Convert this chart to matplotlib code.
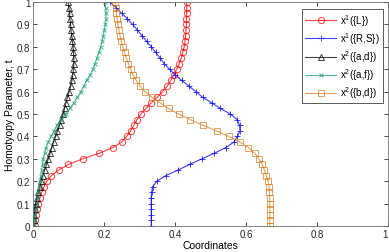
import numpy as np
import matplotlib.pyplot as plt

# homotopy parameter t (0 to 1 in steps of 0.025)
t = [0.000, 0.025, 0.050, 0.075, 0.100, 0.125, 0.150, 0.175, 0.200, 0.225,
     0.250, 0.275, 0.300, 0.325, 0.350, 0.375, 0.400, 0.425, 0.450, 0.475,
     0.500, 0.525, 0.550, 0.575, 0.600, 0.625, 0.650, 0.675, 0.700, 0.725,
     0.750, 0.775, 0.800, 0.825, 0.850, 0.875, 0.900, 0.925, 0.950, 0.975, 1.000]

x1_L = [0.006, 0.007, 0.009, 0.012, 0.015, 0.019, 0.024, 0.031, 0.039, 0.052,
        0.072, 0.100, 0.140, 0.187, 0.224, 0.250, 0.264, 0.275, 0.284, 0.293,
        0.304, 0.318, 0.333, 0.350, 0.365, 0.378, 0.388, 0.397, 0.405, 0.412,
        0.418, 0.422, 0.426, 0.428, 0.430, 0.431, 0.432, 0.432, 0.433, 0.433, 0.433]

x1_RS = [0.333, 0.333, 0.333, 0.333, 0.333, 0.333, 0.334, 0.337, 0.349, 0.374,
         0.409, 0.441, 0.476, 0.511, 0.543, 0.566, 0.576, 0.583, 0.582, 0.575,
         0.556, 0.528, 0.503, 0.478, 0.459, 0.439, 0.419, 0.401, 0.385, 0.370,
         0.358, 0.346, 0.333, 0.320, 0.307, 0.294, 0.281, 0.266, 0.250, 0.234, 0.217]

x2_ad = [0.001, 0.002, 0.004, 0.006, 0.008, 0.011, 0.015, 0.019, 0.023, 0.028,
         0.033, 0.038, 0.043, 0.048, 0.053, 0.058, 0.064, 0.069, 0.075, 0.080,
         0.085, 0.089, 0.093, 0.097, 0.102, 0.106, 0.110, 0.112, 0.114, 0.115,
         0.115, 0.114, 0.113, 0.111, 0.109, 0.107, 0.106, 0.104, 0.103, 0.101, 0.099]

x2_af = [0.003, 0.005, 0.007, 0.009, 0.011, 0.013, 0.015, 0.017, 0.020, 0.022,
         0.024, 0.027, 0.029, 0.033, 0.037, 0.043, 0.051, 0.059, 0.068, 0.079,
         0.092, 0.104, 0.115, 0.125, 0.135, 0.143, 0.151, 0.161, 0.169, 0.175,
         0.180, 0.186, 0.191, 0.195, 0.198, 0.201, 0.204, 0.206, 0.206, 0.205, 0.203]

x2_bd = [0.667, 0.667, 0.667, 0.667, 0.667, 0.667, 0.666, 0.665, 0.662, 0.657,
         0.652, 0.646, 0.636, 0.625, 0.607, 0.583, 0.551, 0.517, 0.478, 0.443,
         0.410, 0.382, 0.358, 0.335, 0.315, 0.302, 0.291, 0.282, 0.275, 0.269,
         0.263, 0.258, 0.253, 0.249, 0.245, 0.242, 0.239, 0.237, 0.235, 0.233, 0.231]

labels = ['x$^1$({L})', 'x$^1$({R,S})', 'x$^2$({a,d})', 'x$^2$({a,f})', 'x$^2$({b,d})']
xticks = [0, 0.2, 0.4, 0.6, 0.8, 1]
yticks = [0, 0.1, 0.2, 0.3, 0.4, 0.5, 0.6, 0.7, 0.8, 0.9, 1]

plt.rcParams['font.family'] = ['Liberation Sans', 'DejaVu Sans']
plt.rcParams['mathtext.fontset'] = 'custom'
plt.rcParams['mathtext.rm'] = 'Liberation Sans'

fig = plt.figure(figsize=(3.89, 2.53), dpi=100)
ax = fig.add_axes([0.0848, 0.1028, 0.9126, 0.885])

series = [x1_L, x1_RS, x2_ad, x2_af, x2_bd]
colors = ['#ff0000', '#0000ff', '#000000', '#1b9e77', '#d9822b']
markers = ['o', '+', '^', 'x', 's']
sizes = [4.5, 4.5, 4.0, 3.5, 4.5]

for xs, c, m, ms, lab in zip(series, colors, markers, sizes, labels):
    ax.plot(xs, t, color=c, marker=m, markersize=ms, markerfacecolor='none',
            markeredgewidth=0.7, linewidth=0.8, alpha=0.75, label=lab)

ax.set_xlim(0, 1)
ax.set_ylim(0, 1)
ax.set_xticks(xticks)
ax.set_xticklabels([f'{v:g}' for v in xticks])
ax.set_yticks(yticks)
ax.set_yticklabels([f'{v:g}' for v in yticks])
ax.tick_params(direction='in', top=True, right=True, length=3, width=0.6,
               labelsize=7, colors='#262626', pad=2)
# keep the last x label inside the figure
ax.get_xticklabels()[-1].set_horizontalalignment('right')
for s in ax.spines.values():
    s.set_color('#707070')
    s.set_linewidth(0.6)

ax.set_xlabel('Coordinates', fontsize=7.5, labelpad=1)
ax.set_ylabel('Homotyopy Parameter, t', fontsize=7.5, labelpad=1)

leg = ax.legend(loc='upper right', bbox_to_anchor=(0.985, 0.97), fontsize=7,
                numpoints=1, handlelength=3.2, labelspacing=0.25,
                borderpad=0.3, handletextpad=0.4, fancybox=False,
                framealpha=1, borderaxespad=0)
leg.get_frame().set_edgecolor('#404040')
leg.get_frame().set_linewidth(0.6)

fig.savefig('out.png', dpi=100)
